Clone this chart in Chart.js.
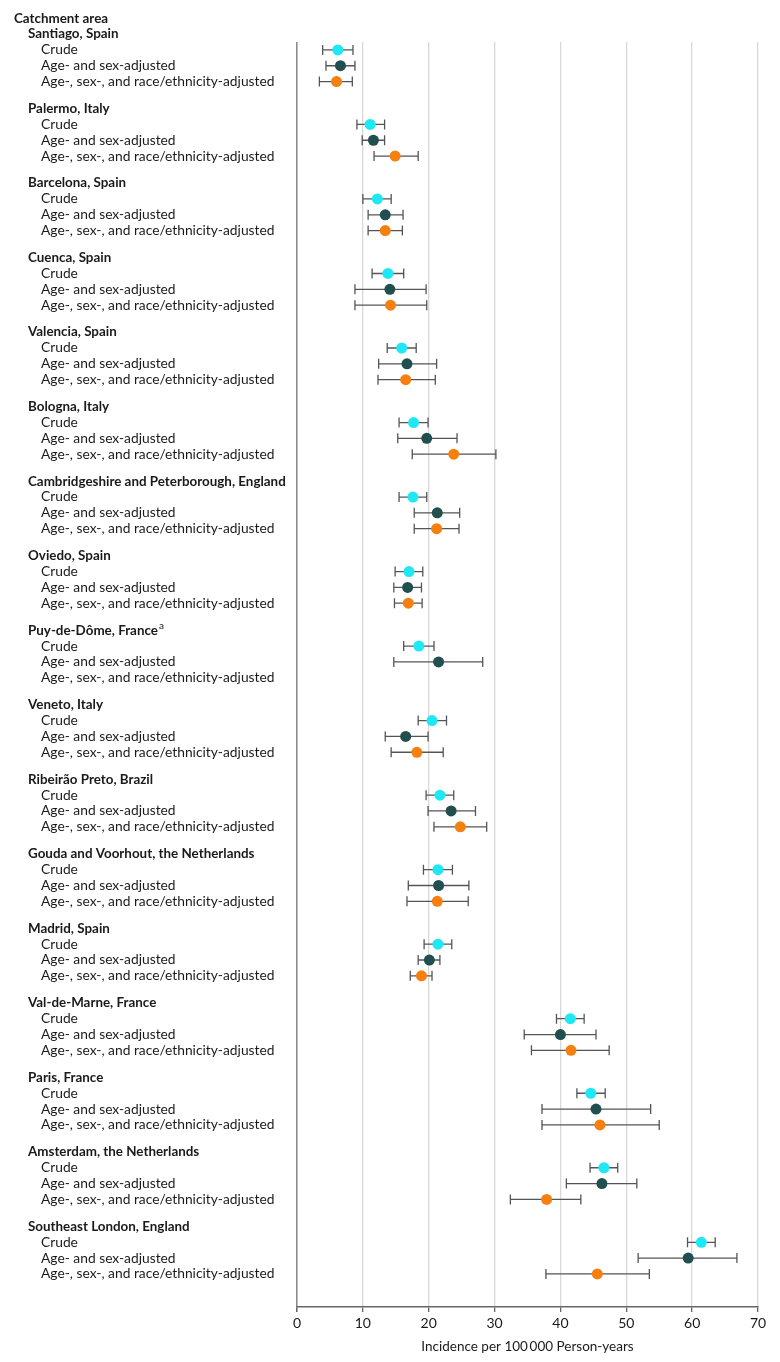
<!DOCTYPE html>
<html>
<head>
<meta charset="utf-8">
<script src="https://cdn.jsdelivr.net/npm/chart.js@4"></script>
<style>
  html, body { margin: 0; padding: 0; background: #fff; }
  #wrap { width: 780px; height: 1362px; position: relative; }
</style>
</head>
<body>
<div id="wrap"><canvas id="myChart"></canvas></div>
<script>
// catchment areas, top to bottom
const areas = [
  'Santiago, Spain', 'Palermo, Italy', 'Barcelona, Spain', 'Cuenca, Spain',
  'Valencia, Spain', 'Bologna, Italy', 'Cambridgeshire and Peterborough, England',
  'Oviedo, Spain', 'Puy-de-Dôme, France', 'Veneto, Italy', 'Ribeirão Preto, Brazil',
  'Gouda and Voorhout, the Netherlands', 'Madrid, Spain', 'Val-de-Marne, France',
  'Paris, France', 'Amsterdam, the Netherlands', 'Southeast London, England'
];
const footnoted = ['Puy-de-Dôme, France'];
const rowLabels = ['Crude', 'Age- and sex-adjusted', 'Age-, sex-, and race/ethnicity-adjusted'];

const crude     = [6.2, 11.1, 12.2, 13.8, 15.9, 17.7, 17.6, 17.0, 18.5, 20.5, 21.7, 21.4, 21.4, 41.5, 44.6, 46.6, 61.4];
const crudeLow  = [3.9,  9.1, 10.0, 11.4, 13.7, 15.5, 15.5, 14.9, 16.2, 18.4, 19.6, 19.2, 19.3, 39.4, 42.5, 44.5, 59.3];
const crudeHigh = [8.5, 13.3, 14.3, 16.2, 18.1, 19.9, 19.7, 19.1, 20.8, 22.7, 23.8, 23.6, 23.5, 43.6, 46.8, 48.7, 63.5];

const ageSex     = [6.6, 11.6, 13.4, 14.1, 16.7, 19.7, 21.3, 16.8, 21.5, 16.5, 23.4, 21.5, 20.1, 40.0, 45.4, 46.3, 59.4];
const ageSexLow  = [4.4,  9.9, 10.8,  8.8, 12.4, 15.3, 17.8, 14.7, 14.7, 13.4, 19.9, 16.9, 18.4, 34.5, 37.2, 40.9, 51.8];
const ageSexHigh = [8.8, 13.3, 16.1, 19.6, 21.2, 24.3, 24.7, 18.9, 28.2, 19.9, 27.1, 26.1, 21.7, 45.4, 53.7, 51.6, 66.8];

const adjusted     = [6.0, 14.9, 13.4, 14.2, 16.5, 23.8, 21.2, 16.9, null, 18.2, 24.8, 21.3, 18.9, 41.6, 46.0, 37.9, 45.6];
const adjustedLow  = [3.4, 11.7, 10.8,  8.8, 12.3, 17.5, 17.8, 14.8, null, 14.3, 20.8, 16.7, 17.2, 35.6, 37.2, 32.4, 37.8];
const adjustedHigh = [8.4, 18.4, 16.0, 19.7, 21.0, 30.2, 24.6, 19.0, null, 22.2, 28.8, 26.0, 20.5, 47.4, 55.0, 43.1, 53.5];

const xTicks = [0, 10, 20, 30, 40, 50, 60, 70];

// row layout (y value units)
const GROUP = 4.71;
function rowPos(g, k) { return 1 + g * GROUP + k; }

function buildPoints(vals, lows, highs, k) {
  const pts = [];
  vals.forEach(function (v, i) {
    if (v === null) return;
    pts.push({ x: v, y: rowPos(i, k), low: lows[i], high: highs[i] });
  });
  return pts;
}

const fontFamily = 'Lato, "Noto Sans", sans-serif';
const textColor = '#1a1a1a';

const errorBars = {
  id: 'errorBars',
  beforeDatasetsDraw(chart) {
    const c = chart.ctx;
    const xs = chart.scales.x, ys = chart.scales.y;
    c.save();
    c.strokeStyle = '#555';
    c.lineWidth = 1.3;
    chart.data.datasets.forEach(function (ds) {
      ds.data.forEach(function (p) {
        const x1 = xs.getPixelForValue(p.low);
        const x2 = xs.getPixelForValue(p.high);
        const y = ys.getPixelForValue(p.y);
        c.beginPath();
        c.moveTo(x1, y); c.lineTo(x2, y);
        c.moveTo(x1, y - 5); c.lineTo(x1, y + 5);
        c.moveTo(x2, y - 5); c.lineTo(x2, y + 5);
        c.stroke();
      });
    });
    c.restore();
  }
};

const rowText = {
  id: 'rowText',
  afterDraw(chart) {
    const c = chart.ctx;
    const ys = chart.scales.y;
    c.save();
    c.fillStyle = textColor;
    c.textBaseline = 'middle';
    c.textAlign = 'left';
    c.font = 'bold 13.4px ' + fontFamily;
    c.fillText('Catchment area', 14, ys.getPixelForValue(0));
    areas.forEach(function (name, g) {
      const yh = ys.getPixelForValue(rowPos(g, 0));
      c.font = 'bold 13.4px ' + fontFamily;
      c.fillText(name, 28, yh);
      if (footnoted.includes(name)) {
        const w = c.measureText(name).width;
        c.font = '10px ' + fontFamily;
        c.fillText('a', 28 + w + 1, yh - 4);
      }
      c.font = '13.8px ' + fontFamily;
      rowLabels.forEach(function (lab, k) {
        c.fillText(lab, 41, ys.getPixelForValue(rowPos(g, k + 1)));
      });
    });
    c.restore();
  }
};

const ctx = document.getElementById('myChart');
new Chart(ctx, {
  type: 'scatter',
  data: {
    datasets: [{
      label: rowLabels[0],
      data: buildPoints(crude, crudeLow, crudeHigh, 1),
      backgroundColor: '#1ee8f4',
      borderWidth: 0,
      pointRadius: 5.5
    }, {
      label: rowLabels[1],
      data: buildPoints(ageSex, ageSexLow, ageSexHigh, 2),
      backgroundColor: '#214f4f',
      borderWidth: 0,
      pointRadius: 5.5
    }, {
      label: rowLabels[2],
      data: buildPoints(adjusted, adjustedLow, adjustedHigh, 3),
      backgroundColor: '#f5800f',
      borderWidth: 0,
      pointRadius: 5.5
    }]
  },
  options: {
    responsive: true,
    maintainAspectRatio: false,
    animation: false,
    layout: {
      padding: { left: 297, right: 22, top: 42, bottom: 3 }
    },
    plugins: {
      legend: { display: false },
      tooltip: { enabled: false }
    },
    scales: {
      x: {
        type: 'linear',
        min: 0,
        max: 70,
        afterBuildTicks: function (axis) {
          axis.ticks = xTicks.map(function (v) { return { value: v }; });
        },
        ticks: {
          color: textColor,
          padding: 3,
          font: { family: fontFamily, size: 14 }
        },
        grid: {
          color: function (c) { return c.tick && c.tick.value === 0 ? '#8c8c8c' : '#d8d8d8'; },
          lineWidth: function (c) { return c.tick && c.tick.value === 0 ? 1.6 : 1.3; },
          drawTicks: true,
          tickLength: 5,
          tickColor: '#666'
        },
        border: { color: '#666', width: 1.4 },
        title: {
          display: true,
          text: 'Incidence per 100\u2009000 Person-years',
          color: textColor,
          font: { family: fontFamily, size: 13.5 },
          padding: { top: 4, bottom: 4 }
        }
      },
      y: {
        type: 'linear',
        display: false,
        reverse: true,
        min: 1.5,
        max: 81.45
      }
    }
  },
  plugins: [errorBars, rowText]
});
</script>
</body>
</html>
